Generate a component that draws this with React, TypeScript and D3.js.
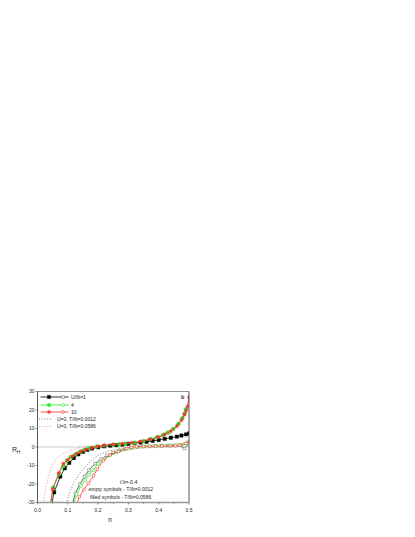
import React from "react";
import * as d3 from "d3";

// ---- data ----
const xTicks = [0, 0.1, 0.2, 0.3, 0.4, 0.5];
const yTicks = [-30, -20, -10, 0, 10, 20, 30];

// filled symbols: T/dt = 0.0586
const u1Filled: [number, number][] = [
  [0.04, -36], [0.055, -24.5], [0.075, -16], [0.09, -11.5], [0.105, -8.5], [0.12, -6],
  [0.135, -4], [0.15, -2.6], [0.165, -1.6], [0.18, -0.8], [0.2, -0.2], [0.22, 0.3],
  [0.24, 0.7], [0.26, 1.0], [0.28, 1.3], [0.3, 1.7], [0.32, 2.1], [0.34, 2.4], [0.36, 2.8],
  [0.38, 3.3], [0.4, 3.8], [0.42, 4.4], [0.44, 5.0], [0.46, 5.6], [0.475, 6.2], [0.49, 6.8], [0.5, 7.3],
];
const u4Filled: [number, number][] = [
  [0.04, -34], [0.052, -22], [0.071, -14.8], [0.085, -10.5], [0.098, -7.4], [0.11, -5.5],
  [0.125, -4.0], [0.14, -2.6], [0.155, -1.6], [0.17, -0.8], [0.195, 0.2], [0.22, 0.8],
  [0.25, 1.2], [0.27, 1.4], [0.29, 1.7], [0.32, 2.3], [0.35, 3.2], [0.373, 4.3], [0.395, 5.3],
  [0.415, 6.5], [0.43, 7.8], [0.448, 9.8], [0.465, 12.5], [0.478, 15.5], [0.485, 18], [0.49, 20.5],
];
const u10Filled: [number, number][] = [
  [0.042, -32], [0.05, -23], [0.07, -14], [0.085, -9], [0.1, -6.8], [0.115, -5], [0.13, -3.6],
  [0.145, -2.3], [0.16, -1.4], [0.18, -0.5], [0.2, 0.3], [0.22, 0.9], [0.25, 1.4], [0.28, 1.8],
  [0.31, 2.3], [0.34, 3.0], [0.37, 4.1], [0.4, 5.4], [0.42, 6.8], [0.44, 8.6], [0.46, 11.3],
  [0.475, 14.5], [0.485, 17.5], [0.49, 19.5], [0.495, 22], [0.5, 27],
];

// empty symbols: T/dt = 0.0012
const u1Empty: [number, number][] = [
  [0.113, -32], [0.125, -25], [0.14, -20], [0.155, -16], [0.17, -12.5], [0.19, -9], [0.21, -6.5],
  [0.23, -4.5], [0.25, -3], [0.27, -1.9], [0.29, -1.1], [0.31, -0.5], [0.33, -0.1], [0.35, 0.2],
  [0.37, 0.4], [0.39, 0.6], [0.41, 0.7], [0.43, 0.8], [0.45, 0.9], [0.47, 1.0], [0.485, -0.8], [0.5, 1.8],
];
const u4Empty: [number, number][] = [
  [0.116, -32], [0.129, -25.7], [0.143, -21], [0.157, -18], [0.17, -15], [0.184, -12.5],
  [0.2, -9], [0.22, -6.5], [0.24, -4.5], [0.26, -3], [0.28, -1.8], [0.3, -0.9], [0.32, -0.3],
  [0.34, 0.1], [0.36, 0.3], [0.38, 0.5], [0.4, 0.6], [0.42, 0.7], [0.44, 0.9], [0.46, 1.1],
  [0.48, 1.5], [0.49, 2.0], [0.5, 3.0],
];
const u10Empty: [number, number][] = [
  [0.127, -32], [0.138, -27], [0.153, -23], [0.168, -19.7], [0.185, -15.5], [0.197, -12.1],
  [0.217, -7.4], [0.239, -4.3], [0.267, -2.5], [0.294, -0.7], [0.31, -0.2], [0.327, 0.2],
  [0.35, 0.3], [0.37, 0.4], [0.39, 0.4], [0.41, 0.5], [0.437, 0.5], [0.455, 0.7], [0.47, 1.0],
  [0.49, 2.0], [0.5, 3.0],
];

// U=0 reference curves (dotted)
const u0Low: [number, number][] = [
  [0.093, -32], [0.105, -25], [0.12, -19.5], [0.14, -14], [0.162, -10], [0.18, -7], [0.2, -4.5],
  [0.23, -2.5], [0.26, -1.3], [0.3, -0.4], [0.35, 0.2], [0.4, 0.5], [0.45, 0.8], [0.5, 1.5],
];
const u0High: [number, number][] = [
  [0.018, -32], [0.025, -23.4], [0.036, -16.1], [0.047, -10.7], [0.063, -6.2], [0.085, -3.4],
  [0.118, -1.3], [0.151, 0.2], [0.2, 0.9], [0.25, 1.3], [0.3, 1.9], [0.35, 2.8], [0.4, 4.5],
  [0.43, 6.5], [0.45, 8.5], [0.47, 12], [0.48, 15], [0.49, 19], [0.5, 25],
];

const legendLabels = ["U/\u03b4t=1", "4", "10", "U=0, T/\u03b4t=0.0012", "U=0, T/\u03b4t=0.0586"];

// ---- layout ----
const W = 415, H = 537;
const x = d3.scaleLinear().domain([0, 0.5]).range([37.5, 189]);
const y = d3.scaleLinear().domain([-30, 30]).range([502.5, 391.5]);
const line = d3.line<[number, number]>().x(d => x(d[0])).y(d => y(d[1]));

const BLACK = "#000";
const GREEN = "#22ee22";
const RED = "#ff2a2a";
const FONT = "'Liberation Sans', Arial, sans-serif";

type Kind = "square" | "circle" | "star";
const symPath = (k: Kind, size: number) =>
  d3.symbol().type(k === "square" ? d3.symbolSquare : k === "circle" ? d3.symbolCircle : d3.symbolStar).size(size)()!;

function Series({ data, color, kind, filled, size, lineColor, dash }: {
  data: [number, number][]; color: string; kind: Kind | null; filled: boolean; size: number; lineColor?: string; dash?: string;
}) {
  return (
    <g>
      <path d={line(data)!} fill="none" stroke={lineColor ?? color} strokeWidth={0.8} strokeDasharray={dash} />
      {kind && data.map((d, i) => (
        <path key={i} transform={`translate(${x(d[0])},${y(d[1])})`} d={symPath(kind, size)}
          fill={filled ? color : "white"} stroke={filled ? (kind === "circle" ? "#11bb11" : color) : color} strokeWidth={filled ? 0.4 : 0.6} />
      ))}
    </g>
  );
}

export default function App() {
  const [x0, x1] = x.range();
  const [yb, yt] = y.range();
  const legendRows = [397, 405, 412, 419, 426.5];
  const minorX = d3.range(0.05, 0.5, 0.1);
  return (
    <svg width={W} height={H} style={{ position: "absolute", left: 0, top: 0, background: "white" }} fontFamily={FONT}>
      <defs>
        <clipPath id="plot"><rect x={x0} y={yt} width={x1 - x0} height={yb - yt} /></clipPath>
      </defs>
      {/* zero line */}
      <line x1={x0} x2={x1} y1={y(0)} y2={y(0)} stroke="#aaa" strokeWidth={0.6} />
      <g clipPath="url(#plot)">
        <Series data={u0Low} color={BLACK} kind={null} filled={false} size={0} dash="0.8,2" lineColor="#333" />
        <Series data={u0High} color={RED} kind={null} filled={false} size={0} dash="0.8,2" lineColor="#ff5555" />
        <Series data={u1Empty} color="#777" kind="square" filled={false} size={7} lineColor="#444" />
        <Series data={u4Empty} color={GREEN} kind="circle" filled={false} size={7} />
        <Series data={u10Empty} color={RED} kind="circle" filled={false} size={6} />
        <Series data={u1Filled} color={BLACK} kind="square" filled size={11} />
        <Series data={u4Filled} color={GREEN} kind="circle" filled size={11} />
        <Series data={u10Filled} color={RED} kind="star" filled size={5} />
      </g>
      {/* frame */}
      <line x1={x0} x2={x1} y1={yt} y2={yt} stroke="#777" strokeWidth={0.8} />
      <line x1={x1} x2={x1} y1={yt} y2={yb} stroke="#444" strokeWidth={0.9} />
      <line x1={x0} x2={x0} y1={yt} y2={yb} stroke="#444" strokeWidth={0.9} />
      <line x1={x0} x2={x1} y1={yb} y2={yb} stroke="#999" strokeWidth={1.4} />
      {/* y ticks */}
      {yTicks.map(t => (
        <g key={t}>
          <line x1={x0 - 2} x2={x0} y1={y(t)} y2={y(t)} stroke="#444" strokeWidth={0.6} />
          <text x={x0 - 3} y={y(t)} dy="0.35em" fontSize={5} textAnchor="end" fill="#222">{t}</text>
        </g>
      ))}
      {/* x ticks */}
      {xTicks.map(t => (
        <g key={t}>
          <line x1={x(t)} x2={x(t)} y1={yb} y2={yb + 2} stroke="#444" strokeWidth={0.6} />
          <text x={x(t)} y={yb + 9} fontSize={5} textAnchor="middle" fill="#222">{t.toFixed(1)}</text>
        </g>
      ))}
      {minorX.map(t => (
        <line key={t} x1={x(t)} x2={x(t)} y1={yb} y2={yb + 1.3} stroke="#444" strokeWidth={0.5} />
      ))}
      {/* axis titles */}
      <text x={110} y={522} fontSize={6.5} textAnchor="middle" fill="#222">n</text>
      <text x={12} y={452} fontSize={7} fill="#222">R<tspan fontSize={4.5} dy={1.5}>H</tspan></text>
      {/* legend */}
      {[
        { c: BLACK, k: "square" as Kind, fs: 10, es: 7, lc: BLACK },
        { c: GREEN, k: "circle" as Kind, fs: 10, es: 7, lc: GREEN },
        { c: RED, k: "star" as Kind, fs: 5, es: 6, lc: RED },
      ].map((r, i) => (
        <g key={i}>
          <line x1={40.5} x2={68.5} y1={legendRows[i]} y2={legendRows[i]} stroke={r.lc} strokeWidth={0.8} />
          <path transform={`translate(49,${legendRows[i]})`} d={symPath(r.k, r.fs)} fill={r.c} stroke={r.c} strokeWidth={0.4} />
          <path transform={`translate(63,${legendRows[i]})`} d={symPath(i === 2 ? "circle" : r.k, r.es)} fill="white" stroke={i === 0 ? "#777" : r.c} strokeWidth={0.6} />
          <text x={71} y={legendRows[i]} dy="0.35em" fontSize={5} fill="#222">{legendLabels[i]}</text>
        </g>
      ))}
      <line x1={39} x2={53} y1={legendRows[3]} y2={legendRows[3]} stroke="#333" strokeWidth={0.8} strokeDasharray="0.8,2" />
      <text x={57} y={legendRows[3]} dy="0.35em" fontSize={5} fill="#222">{legendLabels[3]}</text>
      <line x1={39} x2={53} y1={legendRows[4]} y2={legendRows[4]} stroke="#ff5555" strokeWidth={0.8} strokeDasharray="0.8,2" />
      <text x={57} y={legendRows[4]} dy="0.35em" fontSize={5} fill="#222">{legendLabels[4]}</text>
      {/* annotations */}
      <text x={181} y={398.5} fontSize={5.5} fontWeight="bold" fill="#333">b</text>
      <text x={120} y={483.5} fontSize={5.2} fill="#222">t'/t=-0.4</text>
      <text x={88.5} y={490.8} fontSize={5} fill="#222">empty symbols - T/δt=0.0012</text>
      <text x={90} y={498.5} fontSize={5} fill="#222">filled symbols - T/δt=0.0586</text>
    </svg>
  );
}
